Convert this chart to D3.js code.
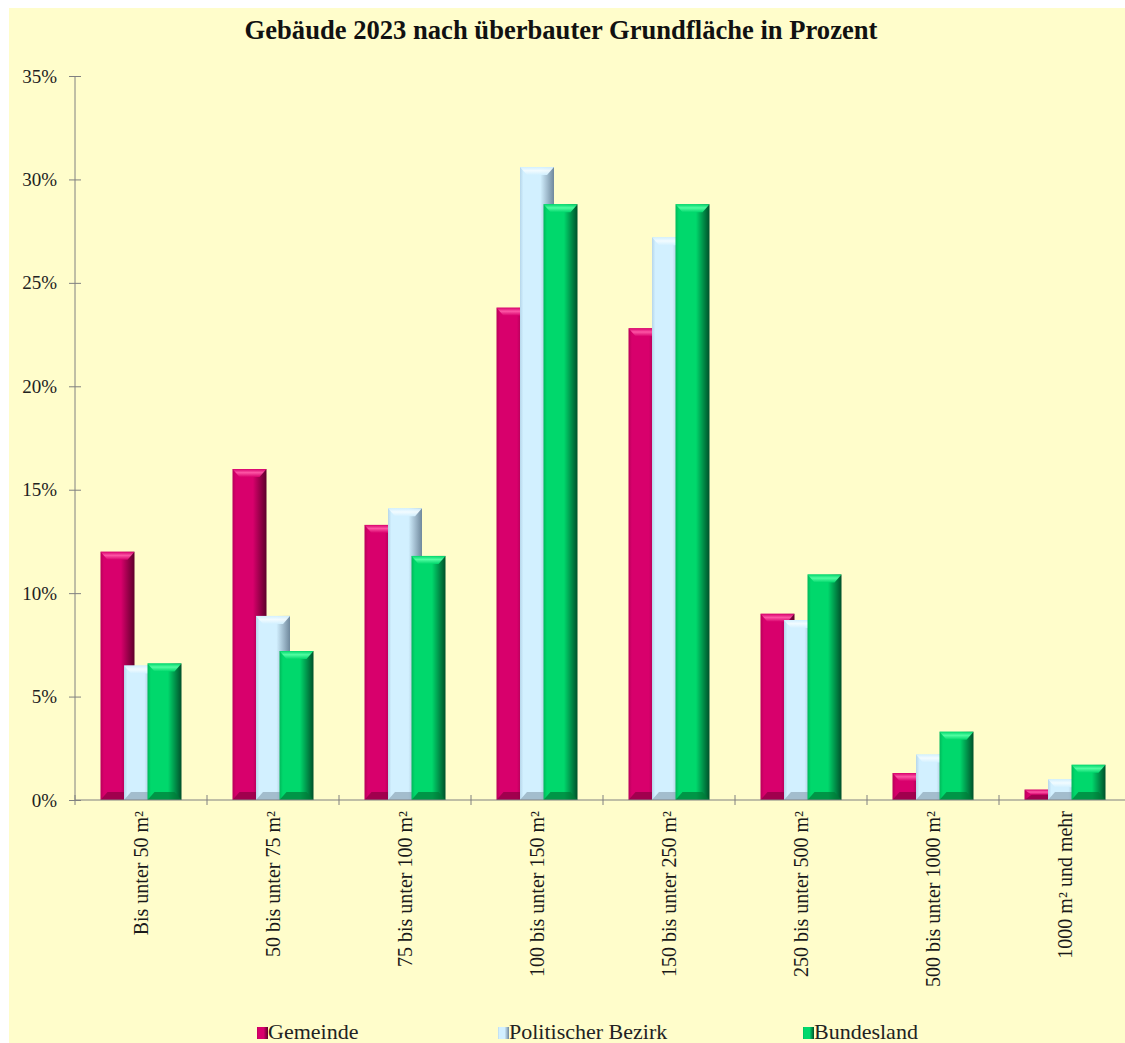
<!DOCTYPE html>
<html><head><meta charset="utf-8">
<script src="https://cdn.jsdelivr.net/npm/d3@7"></script>
<style>body{margin:0;background:#fff}svg{display:block}</style>
</head><body>
<svg id="c" width="1125" height="1043"></svg>
<script>
const categories = ["Bis unter 50 m²","50 bis unter 75 m²","75 bis unter 100 m²","100 bis unter 150 m²","150 bis unter 250 m²","250 bis unter 500 m²","500 bis unter 1000 m²","1000 m² und mehr"];
const seriesNames = ["Gemeinde","Politischer Bezirk","Bundesland"];
const gemeinde   = [12.0, 16.0, 13.3, 23.8, 22.8, 9.0, 1.3, 0.5];
const bezirk     = [6.5, 8.9, 14.1, 30.6, 27.2, 8.7, 2.2, 1.0];
const bundesland = [6.6, 7.2, 11.8, 28.8, 28.8, 10.9, 3.3, 1.7];
const yTicks = [0,5,10,15,20,25,30,35];
const title = "Gebäude 2023 nach überbauter Grundfläche in Prozent";

const seriesValues = [gemeinde, bezirk, bundesland];
const palette = [
  {edge:"#b8005a", main:"#d8006c", dark:"#5e002a", cap:"#ff5aa8", bottom:"#8a0042"},
  {edge:"#b6d6ea", main:"#d2f0ff", dark:"#6f889c", cap:"#f4fcff", bottom:"#8ea6b8"},
  {edge:"#00b85a", main:"#00d86c", dark:"#00502a", cap:"#55ffa4", bottom:"#007a38"}
];

const svg = d3.select("#c");
svg.append("rect").attr("x",9).attr("y",8).attr("width",1116).attr("height",1035).attr("fill","#fffdcb");

const defs = svg.append("defs");
palette.forEach((p,i)=>{
  const g = defs.append("linearGradient").attr("id","body"+i).attr("x1",0).attr("x2",1).attr("y1",0).attr("y2",0);
  [[0,p.edge],[0.1,p.main],[0.6,p.main],[0.8,d3.interpolateRgb(p.main,p.dark)(0.5)],[1,p.dark]].forEach(s=>g.append("stop").attr("offset",s[0]).attr("stop-color",s[1]));
  const c = defs.append("linearGradient").attr("id","cap"+i).attr("x1",0).attr("x2",0).attr("y1",0).attr("y2",1);
  [[0,p.main],[0.45,p.cap],[1,p.main]].forEach(s=>c.append("stop").attr("offset",s[0]).attr("stop-color",s[1]));
});

const x = d3.scaleBand().domain(categories).range([75,1131]).padding(0);
const y = d3.scaleLinear().domain([0,35]).range([800,76]);
const off = d3.scalePoint().domain(seriesNames).range([-23.5,23.5]);
const bw = 34;

// bars
seriesNames.forEach((s,si)=>{
  const g = svg.append("g");
  const data = categories.map((c,ci)=>({c, v:seriesValues[si][ci]}));
  const bars = g.selectAll("g").data(data).join("g");
  bars.each(function(d){
    const cx = x(d.c)+x.bandwidth()/2 + off(s);
    const x0 = cx - bw/2, yt = y(d.v), yb = y(0), h = yb-yt;
    const b = Math.min(8, h/2);
    const sel = d3.select(this);
    sel.append("rect").attr("x",x0).attr("y",yt).attr("width",bw).attr("height",h).attr("fill",`url(#body${si})`);
    sel.append("path").attr("d",`M${x0},${yt}L${x0+bw},${yt}L${x0+bw-7},${yt+b}L${x0+7},${yt+b}Z`).attr("fill",`url(#cap${si})`).attr("opacity",0.95);
    sel.append("path").attr("d",`M${x0},${yb}L${x0+bw},${yb}L${x0+bw-7},${yb-b}L${x0+7},${yb-b}Z`).attr("fill",palette[si].bottom).attr("opacity",0.7);
  });
});

// y axis
const yAxis = svg.append("g").attr("transform","translate(75,0)")
  .call(d3.axisLeft(y).tickValues(yTicks).tickFormat(d=>d+"%").tickSize(6).tickPadding(12));
yAxis.selectAll(".tick line").attr("x2",6).attr("x1",-6);
yAxis.selectAll("line,path").attr("stroke","#808080");
yAxis.select(".domain").attr("d","M0,76V800");
yAxis.selectAll("text").attr("font-family","'Liberation Serif','Times New Roman',serif").attr("font-size",19).attr("fill","#222");

// x axis
const xAxis = svg.append("g").attr("transform","translate(0,800)")
  .call(d3.axisBottom(x).tickSize(0).tickPadding(0));
xAxis.select(".domain").attr("stroke","#808080").attr("d","M75,0H1131");
const bounds = x.domain().map(c=>x(c)).concat([x.range()[1]]);
xAxis.selectAll(".bound").data(bounds).join("line").attr("class","bound")
  .attr("x1",d=>d).attr("x2",d=>d).attr("y1",-5).attr("y2",5).attr("stroke","#808080");
xAxis.selectAll(".tick text")
  .attr("font-family","'Liberation Serif','Times New Roman',serif").attr("font-size",20).attr("fill","#1a1a1a")
  .attr("text-anchor","end").attr("transform","rotate(-90)").attr("x",-11).attr("y",0).attr("dy","0.33em");

// title
svg.append("text").attr("x",561).attr("y",39).attr("text-anchor","middle")
  .attr("font-family","'Liberation Serif','Times New Roman',serif").attr("font-weight","bold").attr("font-size",26.6)
  .attr("fill","#111").text(title);

// legend
const legX = [257, 498, 803];
const leg = svg.append("g").selectAll("g").data(seriesNames).join("g")
  .attr("transform",(d,i)=>`translate(${legX[i]},1027)`);
leg.append("rect").attr("width",11).attr("height",12).attr("fill",(d,i)=>`url(#body${i})`);
leg.append("text").attr("x",11).attr("y",12).attr("font-family","'Liberation Serif','Times New Roman',serif")
  .attr("font-size",22).attr("fill","#222").text(d=>d);
</script>
</body></html>
